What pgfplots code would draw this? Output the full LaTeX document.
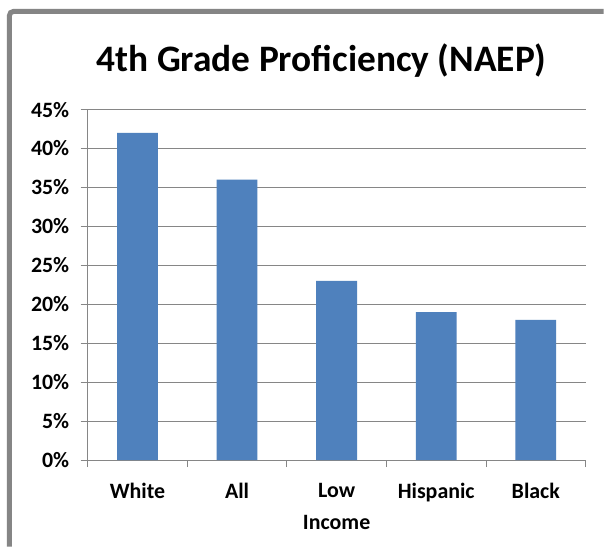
\documentclass[border=0pt]{standalone}
\usepackage{pgfplots}
\pgfplotsset{compat=1.18}
\usepackage{fontspec}
\setmainfont{Carlito}
\definecolor{barblue}{HTML}{4F81BD}
\definecolor{gridgray}{HTML}{868686}
\definecolor{framegray}{HTML}{858585}
\begin{document}
\begin{tikzpicture}
\fill[white] (0pt,0pt) rectangle (606pt,549pt);
\node[font=\bfseries\fontsize{37.5}{40}\selectfont] at (323pt,488pt) {4th Grade Proficiency (NAEP)};
\begin{axis}[
  at={(88pt,87pt)}, anchor=south west,
  scale only axis, width=500pt, height=352pt,
  xmin=-0.5, xmax=4.5, ymin=0, ymax=45,
  axis lines*=left,
  axis line style={gridgray, line width=1pt},
  /pgf/number format/assume math mode=true,
  ytick={0,5,...,45},
  yticklabel={\pgfmathprintnumber{\tick}\%},
  ymajorgrids, grid style={gridgray, line width=1pt},
  tick align=outside,
  major tick length=7pt, minor tick length=7pt,
  ytick style={gridgray, line width=1pt},
  xtick={0,1,2,3,4},
  xticklabels={White, All, Low\\Income, Hispanic, Black},
  x tick style={draw=none},
  minor xtick={-0.5,0.5,1.5,2.5,3.5,4.5},
  minor x tick style={draw=gridgray, line width=1pt},
  tick label style={font=\bfseries\fontsize{22}{32}\selectfont, text=black},
  xticklabel style={align=center, yshift=-13pt},
  yticklabel style={xshift=-8pt},
]
\addplot[ybar, bar width=41pt, fill=barblue, draw=none] coordinates {
  (0,42) (1,36) (2,23) (3,19) (4,18)
};
\end{axis}
\draw[framegray, line width=5pt, rounded corners=4pt] (9.5pt,0pt) -- (9.5pt,537.5pt) -- (606pt,537.5pt);
\end{tikzpicture}
\end{document}
